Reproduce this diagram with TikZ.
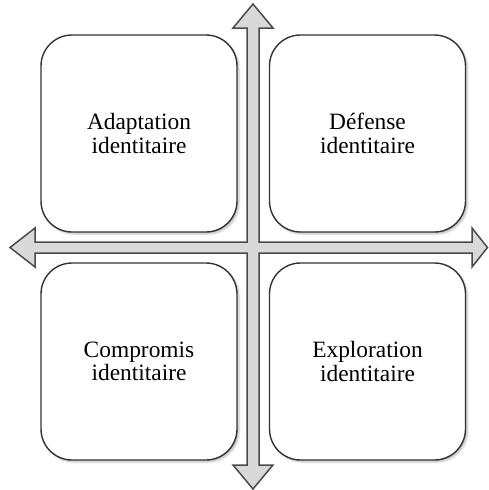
\documentclass[tikz,border=0pt]{standalone}
\usepackage{fontspec}
\setmainfont{Liberation Serif}
\usetikzlibrary{shadows.blur}
\definecolor{boxline}{HTML}{333333}
\definecolor{crossfill}{HTML}{D9D9D9}
\definecolor{crossline}{HTML}{4A4A4A}
\begin{document}
\begin{tikzpicture}[x=1pt,y=-1pt,
  quad/.style={draw=boxline, line width=1.4pt, fill=white, rounded corners=31pt,
    minimum width=196pt, minimum height=197pt, inner sep=0pt, align=center,
    font=\fontsize{23.4}{23.5}\selectfont,
    blur shadow={shadow xshift=2pt, shadow yshift=-2pt, shadow blur steps=5, shadow opacity=25}},
  crossstyle/.style={draw=crossline, fill=crossfill, line width=1.5pt, line join=miter}]
\useasboundingbox (0,0) rectangle (488,490);
\node[quad] (tl) at (139,133.5) {Adaptation\\identitaire};
\node[quad] (tr) at (367.5,133.5) {Défense\\identitaire};
\node[quad] (bl) at (139,361.5) {Compromis\\identitaire};
\node[quad] (br) at (367.5,361.5) {Exploration\\identitaire};
\draw[crossstyle] (253,4) -- (273,28) -- (259,28) -- (259,242) -- (472,242) -- (472,228)
  -- (487.5,247.5) -- (472,267) -- (472,253) -- (259,253) -- (259,465) -- (273,465)
  -- (253,489) -- (233,465) -- (247,465) -- (247,253) -- (35,253) -- (35,267)
  -- (10,247.5) -- (35,228) -- (35,242) -- (247,242) -- (247,28) -- (233,28) -- cycle;
\end{tikzpicture}
\end{document}
